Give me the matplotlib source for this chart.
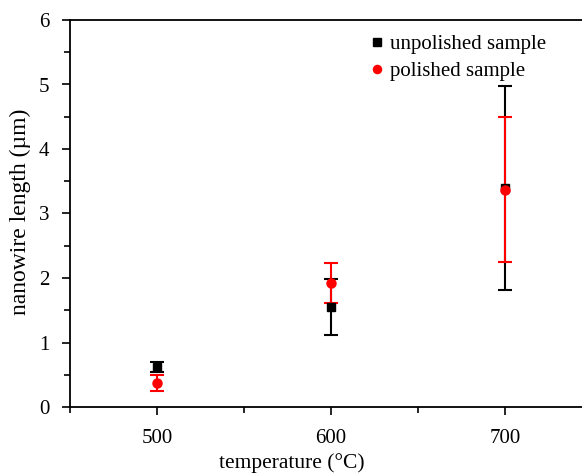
import matplotlib
matplotlib.use("Agg")
import matplotlib.pyplot as plt
from matplotlib.ticker import MultipleLocator

temperature = [500, 600, 700]

unpolished = [0.62, 1.55, 3.40]
unpolished_err = [0.07, 0.43, 1.58]

polished = [0.37, 1.92, 3.37]
polished_err = [0.12, 0.31, 1.12]

plt.rcParams["font.family"] = ["Liberation Serif", "DejaVu Serif"]

fig = plt.figure(figsize=(5.82, 4.73), dpi=100)
ax = fig.add_axes([70 / 582, 66 / 473, 530 / 582, 387 / 473])

ax.errorbar(temperature, unpolished, yerr=unpolished_err, fmt="s", color="black",
            ms=6, capsize=5, elinewidth=1.5, capthick=1.5, label="unpolished sample")
ax.errorbar(temperature, polished, yerr=polished_err, fmt="o", color="red",
            ms=6.5, capsize=5, elinewidth=1.5, capthick=1.5, label="polished sample")

ax.set_xlim(450, 450 + 530 / 1.74)
ax.set_ylim(0, 6)
ax.set_xticks(temperature)
ax.xaxis.set_minor_locator(MultipleLocator(50))
ax.yaxis.set_major_locator(MultipleLocator(1))
ax.yaxis.set_minor_locator(MultipleLocator(0.5))
ax.tick_params(which="major", direction="out", length=6, width=1.2, labelsize=15)
ax.tick_params(axis="x", which="major", pad=10)
ax.tick_params(axis="y", which="major", pad=9)
ax.tick_params(which="minor", direction="out", length=4, width=1.2)
for s in ax.spines.values():
    s.set_linewidth(1.3)

ax.set_xlabel("temperature (°C)", fontsize=15.5)
ax.xaxis.set_label_coords((292 - 70) / 530, -0.118)
ax.set_ylabel("nanowire length (µm)", fontsize=17)
ax.yaxis.set_label_coords(-0.074, (407 - 212) / 387)

handles, labels = ax.get_legend_handles_labels()
handles = [h[0] for h in handles]
ax.legend(handles, labels, loc="upper left", bbox_to_anchor=(0.523, 1.01),
          frameon=False, fontsize=15, handletextpad=0.05, handlelength=1.1,
          labelspacing=0.33, markerscale=0.9)

fig.savefig("out.png", dpi=100)
